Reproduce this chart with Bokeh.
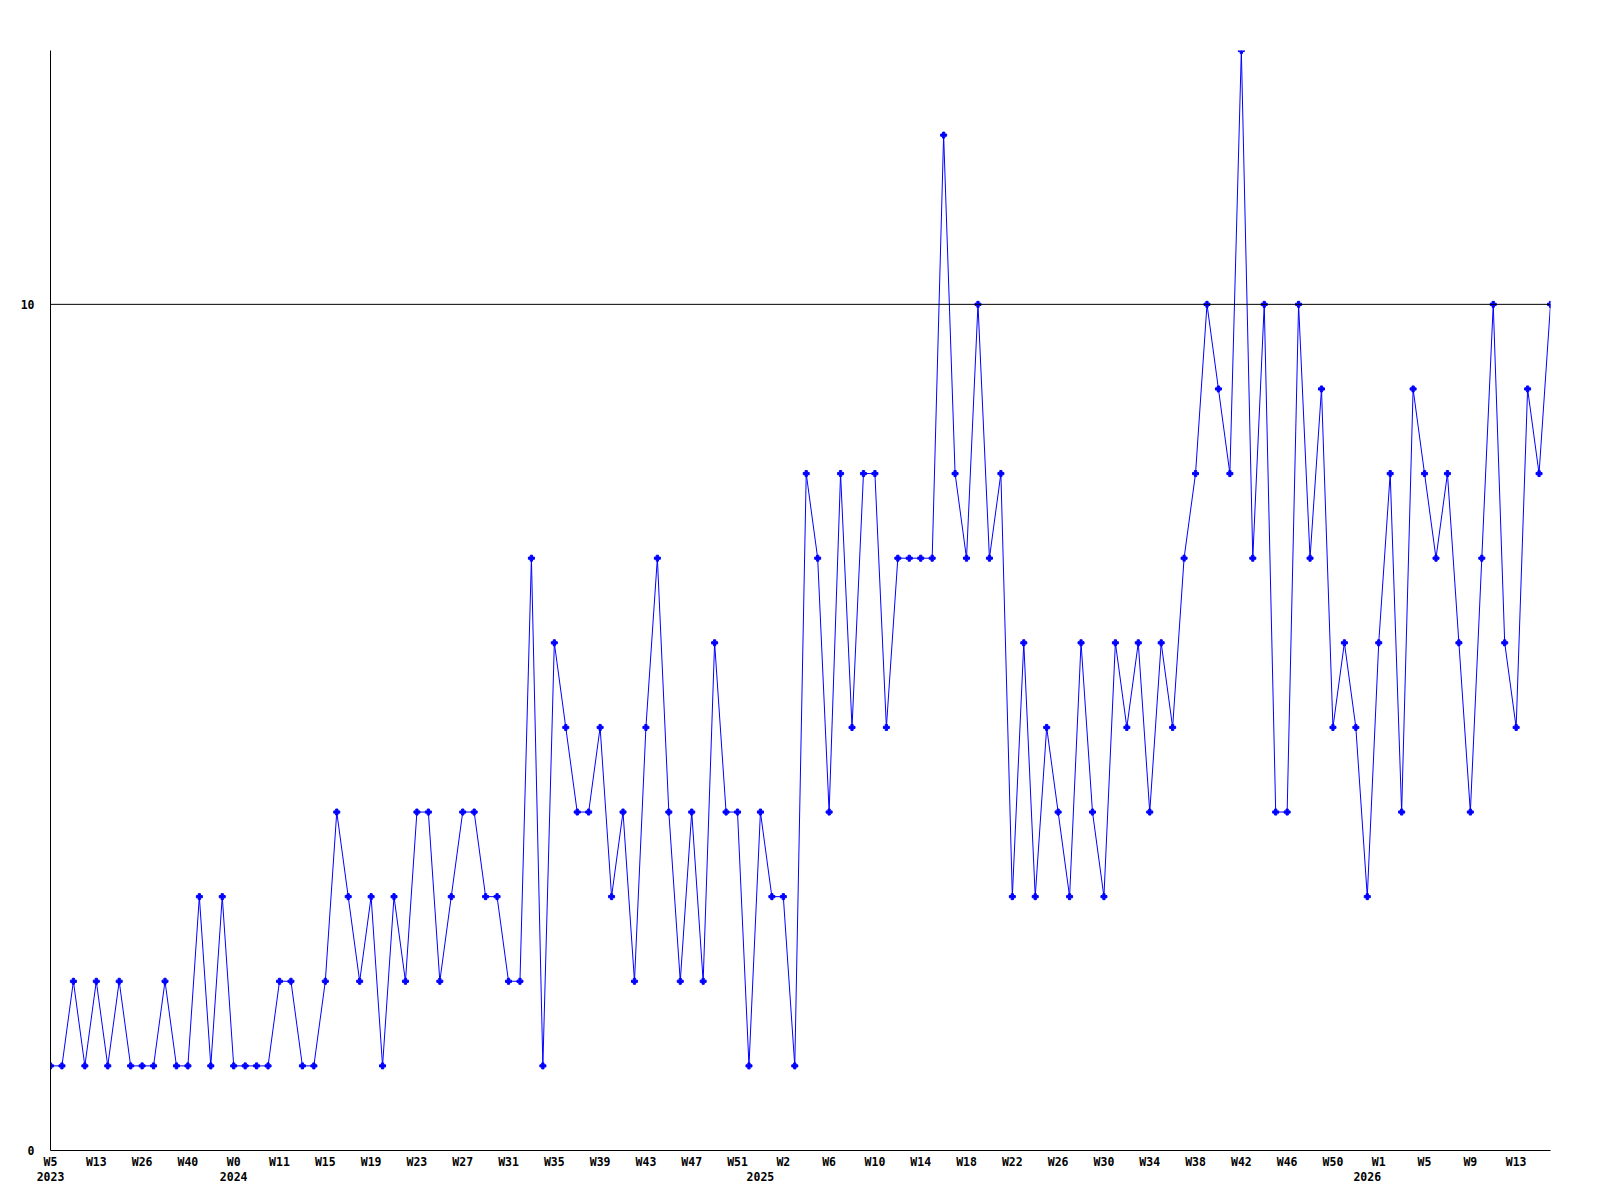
from bokeh.plotting import figure
from bokeh.models import ColumnDataSource, Span, Range1d, FixedTicker, LinearAxis
from bokeh.embed import file_html
from bokeh.resources import INLINE

# weekly counts
counts = [1, 1, 2, 1, 2, 1, 2, 1, 1, 1,
          2, 1, 1, 3, 1, 3, 1, 1, 1, 1,
          2, 2, 1, 1, 2, 4, 3, 2, 3, 1,
          3, 2, 4, 4, 2, 3, 4, 4, 3, 3,
          2, 2, 7, 1, 6, 5, 4, 4, 5, 3,
          4, 2, 5, 7, 4, 2, 4, 2, 6, 4,
          4, 1, 4, 3, 3, 1, 8, 7, 4, 8,
          5, 8, 8, 5, 7, 7, 7, 7, 12, 8,
          7, 10, 7, 8, 3, 6, 3, 5, 4, 3,
          6, 4, 3, 6, 5, 6, 4, 6, 5, 7,
          8, 10, 9, 8, 13, 7, 10, 4, 4, 10,
          7, 9, 5, 6, 5, 3, 6, 8, 4, 9,
          8, 7, 8, 6, 4, 7, 10, 6, 5, 9,
          8, 10]

# x tick labels (one every 4th point)
week_labels = ["W5", "W13", "W26", "W40", "W0", "W11", "W15", "W19", "W23",
               "W27", "W31", "W35", "W39", "W43", "W47", "W51", "W2", "W6",
               "W10", "W14", "W18", "W22", "W26", "W30", "W34", "W38", "W42",
               "W46", "W50", "W1", "W5", "W9", "W13"]
label_step = 4

# year labels and the point index where each is shown
year_labels = ["2023", "2024", "2025", "2026"]
year_index = [0, 16, 62, 115]

# y ticks
y_ticks = [0, 10]
y_max = 13

idx = list(range(len(counts)))
week_ticks = [k * label_step for k in range(len(week_labels))]

p = figure(width=1584, height=1192, output_backend="svg", toolbar_location=None,
           x_range=Range1d(0, len(counts) - 1), y_range=Range1d(0, y_max),
           min_border_left=50, min_border_right=34, min_border_top=50, min_border_bottom=42,
           background_fill_color="white", border_fill_color="white")
p.outline_line_color = None
p.grid.visible = False

font_kw = dict(major_label_text_font="DejaVu Sans Mono", major_label_text_font_style="bold",
               major_label_text_font_size="11.5px", major_label_text_color="black")

xa = p.xaxis[0]
xa.ticker = FixedTicker(ticks=week_ticks)
xa.major_label_overrides = {t: lab for t, lab in zip(week_ticks, week_labels)}
xa.major_tick_out = 0
xa.major_tick_in = 0
xa.minor_tick_line_color = None
xa.major_label_standoff = 4
xa.axis_line_color = "black"
xa.axis_line_width = 1
for k, v in font_kw.items():
    setattr(xa, k, v)

ya = p.yaxis[0]
ya.ticker = FixedTicker(ticks=y_ticks)
ya.major_tick_out = 0
ya.major_tick_in = 0
ya.minor_tick_line_color = None
ya.major_label_standoff = 16
ya.axis_line_color = "black"
ya.axis_line_width = 1
for k, v in font_kw.items():
    setattr(ya, k, v)

year_axis = LinearAxis(ticker=FixedTicker(ticks=year_index),
                       major_label_overrides={t: lab for t, lab in zip(year_index, year_labels)},
                       axis_line_color=None, major_tick_line_color=None,
                       major_tick_out=0, major_tick_in=0,
                       minor_tick_line_color=None, major_label_standoff=0, **font_kw)
p.add_layout(year_axis, "below")

p.add_layout(Span(location=10, dimension="width", line_color="black", line_width=1))

src = ColumnDataSource(dict(x=idx, y=counts))
p.line("x", "y", source=src, line_color="#0000ff", line_width=1)
p.scatter("x", "y", source=src, marker="plus", size=6, color="#0000ff")

open("out.html", "w").write(file_html(p, INLINE))
